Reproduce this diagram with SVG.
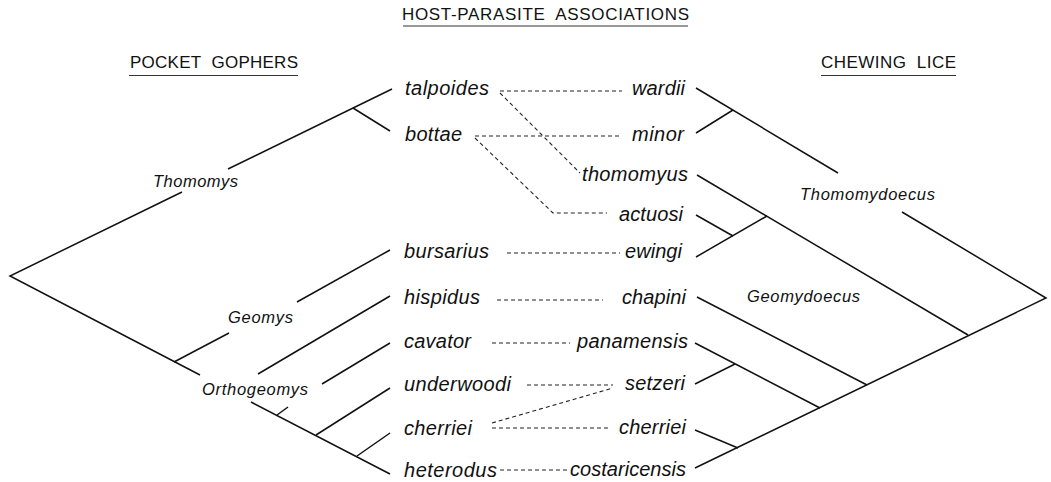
<svg xmlns="http://www.w3.org/2000/svg" width="1051" height="482" viewBox="0 0 1051 482">
<style>
.bg{fill:#fff}
.sp{font-family:"Liberation Sans",Arial,sans-serif;font-style:italic;font-size:20px;fill:#111}
.cl{font-family:"Liberation Sans",Arial,sans-serif;font-style:italic;font-size:16.5px;fill:#111}
.hd{font-family:"Liberation Sans",Arial,sans-serif;font-size:17px;fill:#111}
.ul{stroke:#333;stroke-width:1.2;fill:none}
.tr{stroke:#111;stroke-width:1.5;fill:none;stroke-linecap:butt}
.as{stroke:#222;stroke-width:1.1;fill:none;stroke-dasharray:4 3}
</style>
<rect class="bg" x="0" y="0" width="1051" height="482"/>
<g id="headers">
<text class="hd" x="402" y="20" textLength="287">HOST-PARASITE&#160; ASSOCIATIONS</text>
<line class="ul" x1="403" y1="26" x2="688" y2="26"/>
<text class="hd" x="130" y="68" textLength="168">POCKET&#160; GOPHERS</text>
<line class="ul" x1="129" y1="75.5" x2="298" y2="75.5"/>
<text class="hd" x="821" y="68" textLength="135">CHEWING&#160; LICE</text>
<line class="ul" x1="821" y1="75.5" x2="956" y2="75.5"/>
</g>
<g id="connectors">
<g id="host-tree">
<polyline class="tr" points="182,192 10,276 200,375"/>
<line class="tr" x1="228" y1="169" x2="392" y2="89"/>
<line class="tr" x1="353" y1="108" x2="390" y2="131"/>
<line class="tr" x1="251" y1="402" x2="390" y2="474"/>
<line class="tr" x1="174" y1="362" x2="229" y2="333"/>
<line class="tr" x1="297" y1="302" x2="390" y2="250"/>
<line class="tr" x1="258" y1="374" x2="390" y2="296"/>
<line class="tr" x1="322" y1="384" x2="390" y2="343"/>
<line class="tr" x1="277" y1="415" x2="288" y2="407"/>
<line class="tr" x1="316" y1="435" x2="390" y2="388"/>
<line class="tr" x1="357" y1="456" x2="390" y2="433"/>
</g>
<g id="parasite-tree">
<line class="tr" x1="696" y1="88" x2="838" y2="173"/>
<polyline class="tr" points="902,212 1046,298 695,468"/>
<line class="tr" x1="696" y1="133" x2="733" y2="110"/>
<line class="tr" x1="697" y1="175" x2="968" y2="335"/>
<line class="tr" x1="696" y1="215" x2="733" y2="236"/>
<line class="tr" x1="696" y1="257" x2="767" y2="216"/>
<line class="tr" x1="697" y1="297" x2="867" y2="385"/>
<line class="tr" x1="695" y1="343" x2="820" y2="408"/>
<line class="tr" x1="695" y1="384" x2="735" y2="364"/>
<line class="tr" x1="695" y1="430" x2="738" y2="448"/>
</g>
<g id="associations">
<line class="as" x1="500" y1="91" x2="622" y2="91"/>
<line class="as" x1="500" y1="93" x2="580" y2="173"/>
<line class="as" x1="475" y1="136" x2="622" y2="136"/>
<polyline class="as" points="475,138 553,213 607,213"/>
<line class="as" x1="507" y1="253" x2="620" y2="253"/>
<line class="as" x1="497" y1="300" x2="603" y2="300"/>
<line class="as" x1="492" y1="343" x2="570" y2="343"/>
<line class="as" x1="527" y1="385" x2="613" y2="385"/>
<line class="as" x1="492" y1="423" x2="613" y2="388"/>
<line class="as" x1="492" y1="428" x2="610" y2="428"/>
<line class="as" x1="500" y1="470" x2="570" y2="470"/>
</g>
</g>
<g id="clades">
<text id="c-thomomys" class="cl" x="153" y="187" textLength="85">Thomomys</text>
<text id="c-geomys" class="cl" x="228" y="323" textLength="65">Geomys</text>
<text id="c-orthogeomys" class="cl" x="202" y="395" textLength="106">Orthogeomys</text>
<text id="c-thomomydoecus" class="cl" x="800" y="200" textLength="135">Thomomydoecus</text>
<text id="c-geomydoecus" class="cl" x="747" y="302" textLength="113">Geomydoecus</text>
</g>
<g id="hosts">
<g id="h-talpoides"><text class="sp" x="405" y="95" textLength="84">talpoides</text></g>
<g id="h-bottae"><text class="sp" x="405" y="141" textLength="57">bottae</text></g>
<g id="h-bursarius"><text class="sp" x="404" y="258" textLength="85">bursarius</text></g>
<g id="h-hispidus"><text class="sp" x="404" y="304" textLength="76">hispidus</text></g>
<g id="h-cavator"><text class="sp" x="404" y="348" textLength="67">cavator</text></g>
<g id="h-underwoodi"><text class="sp" x="404" y="391" textLength="107">underwoodi</text></g>
<g id="h-cherriei"><text class="sp" x="404" y="435" textLength="68">cherriei</text></g>
<g id="h-heterodus"><text class="sp" x="404" y="477" textLength="93">heterodus</text></g>
</g>
<g id="parasites">
<g id="p-wardii"><text class="sp" x="632" y="95" textLength="53">wardii</text></g>
<g id="p-minor"><text class="sp" x="632" y="141" textLength="52">minor</text></g>
<g id="p-thomomyus"><text class="sp" x="582" y="181" textLength="106">thomomyus</text></g>
<g id="p-actuosi"><text class="sp" x="619" y="221" textLength="64">actuosi</text></g>
<g id="p-ewingi"><text class="sp" x="625" y="258" textLength="57">ewingi</text></g>
<g id="p-chapini"><text class="sp" x="622" y="304" textLength="64">chapini</text></g>
<g id="p-panamensis"><text class="sp" x="577" y="348" textLength="111">panamensis</text></g>
<g id="p-setzeri"><text class="sp" x="625" y="390" textLength="60">setzeri</text></g>
<g id="p-cherriei"><text class="sp" x="619" y="434" textLength="67">cherriei</text></g>
<g id="p-costaricensis"><text class="sp" x="570" y="476" textLength="116">costaricensis</text></g>
</g>
</svg>
